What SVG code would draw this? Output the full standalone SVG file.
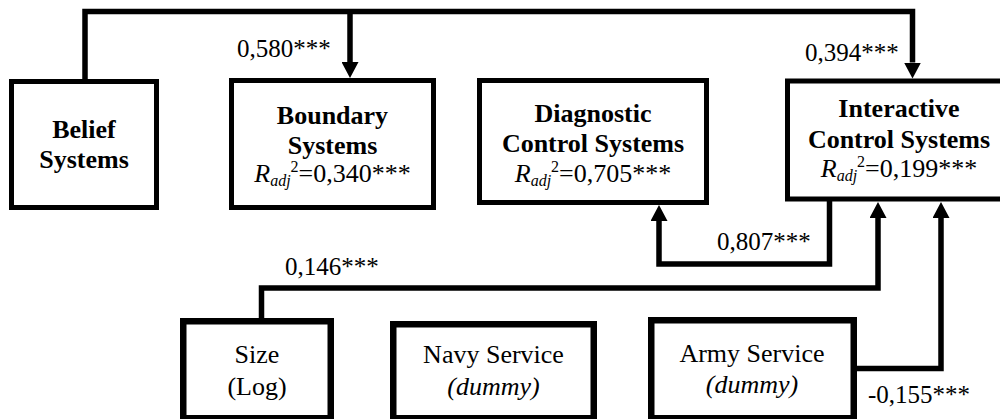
<svg xmlns="http://www.w3.org/2000/svg" width="1000" height="419" viewBox="0 0 1000 419">
<style>
  .box { fill: #fff; stroke: #000; stroke-width: 5; }
  .box2 { fill: #fff; stroke: #000; stroke-width: 6.5; }
  .conn { fill: none; stroke: #000; stroke-width: 5.5; stroke-linejoin: miter; }
</style>
<defs>
  <marker id="ah" markerUnits="userSpaceOnUse" markerWidth="17" markerHeight="17" refX="0" refY="8.5" orient="auto" viewBox="0 0 17 17">
    <path d="M0,0 L16,8.5 L0,17 z" fill="#000"/>
  </marker>
</defs>
<rect width="1000" height="419" fill="#fff"/>

<g id="connectors">
  <path class="conn" d="M85,82 V11.5 H912.5 V62.5" marker-end="url(#ah)"/>
  <path class="conn" d="M350,11.5 V62" marker-end="url(#ah)"/>
  <path class="conn" d="M829.5,199 V264 H659 V221" marker-end="url(#ah)"/>
  <path class="conn" d="M261.5,319 V288 H878 V218" marker-end="url(#ah)"/>
  <path class="conn" d="M855,368.5 H941 V218" marker-end="url(#ah)"/>
</g>

<g id="belief">
  <rect class="box" x="11.5" y="81.5" width="145" height="126"/>
  <g font-family="Liberation Serif" font-size="26" font-weight="bold" text-anchor="middle">
    <text x="84" y="138">Belief</text>
    <text x="84" y="168">Systems</text>
  </g>
</g>

<g id="boundary">
  <rect class="box" x="231.5" y="80.5" width="202" height="127"/>
  <g font-family="Liberation Serif" font-size="26" text-anchor="middle">
    <text x="332.5" y="124" font-weight="bold">Boundary</text>
    <text x="332.5" y="154" font-weight="bold">Systems</text>
    <text x="332.5" y="182"><tspan font-style="italic">R</tspan><tspan font-style="italic" font-size="16" dy="4">adj</tspan><tspan font-size="16" dy="-14">2</tspan><tspan dy="10">=0,340***</tspan></text>
  </g>
</g>

<g id="diagnostic">
  <rect class="box" x="479.5" y="80.5" width="227" height="122"/>
  <g font-family="Liberation Serif" font-size="26" text-anchor="middle">
    <text x="593" y="122" font-weight="bold">Diagnostic</text>
    <text x="593" y="152" font-weight="bold">Control Systems</text>
    <text x="593" y="182"><tspan font-style="italic">R</tspan><tspan font-style="italic" font-size="16" dy="4">adj</tspan><tspan font-size="16" dy="-14">2</tspan><tspan dy="10">=0,705***</tspan></text>
  </g>
</g>

<g id="interactive">
  <rect class="box" x="787.5" y="81" width="216" height="118"/>
  <g font-family="Liberation Serif" font-size="26" text-anchor="middle">
    <text x="899" y="117" font-weight="bold">Interactive</text>
    <text x="899" y="148" font-weight="bold">Control Systems</text>
    <text x="899" y="177"><tspan font-style="italic">R</tspan><tspan font-style="italic" font-size="16" dy="4">adj</tspan><tspan font-size="16" dy="-14">2</tspan><tspan dy="10">=0,199***</tspan></text>
  </g>
</g>

<g id="size">
  <rect class="box2" x="183.25" y="321.25" width="147.5" height="97"/>
  <g font-family="Liberation Serif" font-size="26" text-anchor="middle">
    <text x="257" y="363">Size</text>
    <text x="257" y="395">(Log)</text>
  </g>
</g>

<g id="navy">
  <rect class="box2" x="393.25" y="324.25" width="200.5" height="94"/>
  <g font-family="Liberation Serif" font-size="26" text-anchor="middle">
    <text x="493.5" y="363">Navy Service</text>
    <text x="493.5" y="395" font-style="italic">(dummy)</text>
  </g>
</g>

<g id="army">
  <rect class="box2" x="651.25" y="320.25" width="202.5" height="98"/>
  <g font-family="Liberation Serif" font-size="26" text-anchor="middle">
    <text x="752" y="362">Army Service</text>
    <text x="752" y="393" font-style="italic">(dummy)</text>
  </g>
</g>

<g id="labels" font-family="Liberation Serif" font-size="25">
  <text x="237" y="57">0,580***</text>
  <text x="805" y="61">0,394***</text>
  <text x="717" y="250">0,807***</text>
  <text x="285" y="275">0,146***</text>
  <text x="868" y="403">-0,155***</text>
</g>
</svg>
